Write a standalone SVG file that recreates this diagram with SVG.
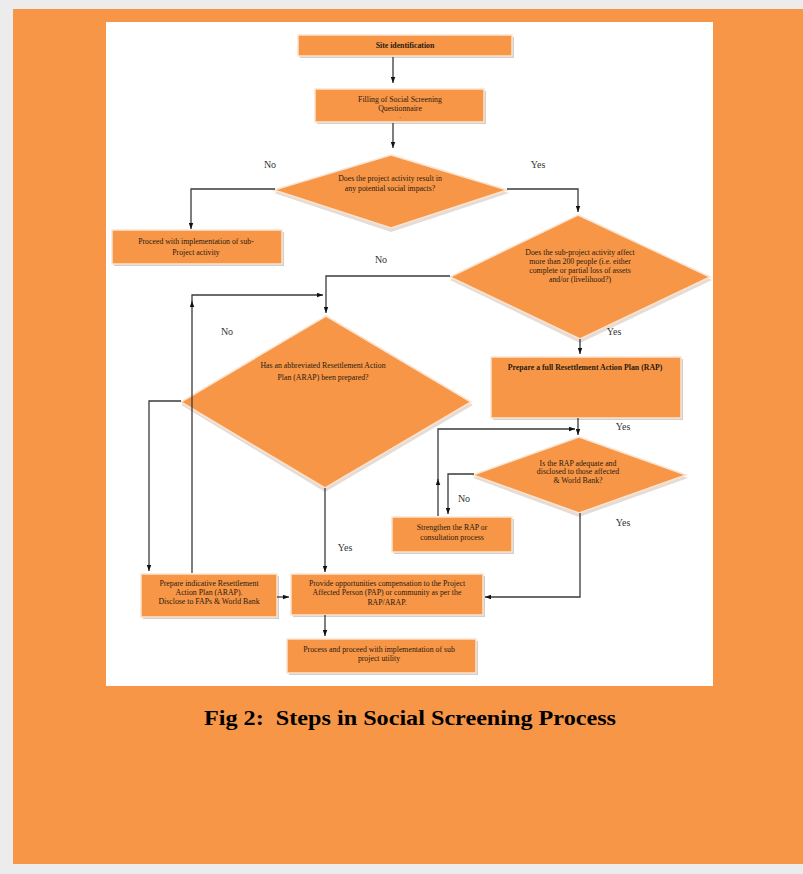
<svg xmlns="http://www.w3.org/2000/svg" width="803" height="874" viewBox="0 0 803 874">
<style>
.box{fill:#F79646;stroke:#fbe3d0;stroke-width:1.5}
.shd{fill:#cfcfcf}
.dsh{fill:#e6dcd6}
.conn{fill:none;stroke:#3a3a3a;stroke-width:1.3}
.t{font-family:"Liberation Serif","Times New Roman",serif;font-size:7.8px;fill:#2a1a10;text-anchor:middle}
.b{font-weight:bold}
.lbl{font-family:"Liberation Serif","Times New Roman",serif;font-size:10px;fill:#333;text-anchor:middle}
.cap{font-family:"Liberation Serif","Times New Roman",serif;font-size:22px;font-weight:bold;fill:#000;text-anchor:middle;white-space:pre}
</style>
<defs>
<marker id="ah" viewBox="0 0 8 6" refX="8" refY="3" markerWidth="6" markerHeight="5" markerUnits="userSpaceOnUse" orient="auto">
<path d="M0,0 L8,3 L0,6 z" fill="#111"/>
</marker>
</defs>
<rect width="803" height="874" fill="#ececec"/>
<rect x="13" y="9" width="790" height="855" fill="#F79646"/>
<rect x="106" y="22" width="607" height="664" fill="#ffffff"/>

<g id="n-site">
<rect class="shd" x="300" y="37" width="214" height="21"/>
<rect class="box" x="298" y="35" width="214" height="21"/>
<text class="t b" x="405" y="48">Site identification</text>
</g>
<g id="n-fill">
<rect class="shd" x="317" y="91" width="169" height="33"/>
<rect class="box" x="315" y="89" width="169" height="33"/>
<text class="t" x="400" y="102">Filling of Social Screening</text>
<text class="t" x="400" y="111">Questionnaire</text>
<text class="t" x="400" y="119" style="font-size:5px">-</text>
</g>
<g id="n-d1">
<polygon class="dsh" points="391,158 509,193 391,232 274,193"/>
<polygon class="box" points="391,155 507,190 391,228 274,190"/>
<text class="t" x="390" y="180.5">Does the project activity result in</text>
<text class="t" x="390" y="190.5">any potential social impacts?</text>
</g>
<g id="n-proceed">
<rect class="shd" x="114" y="232" width="170" height="34"/>
<rect class="box" x="112" y="230" width="170" height="34"/>
<text class="t" x="196" y="244">Proceed with implementation of sub-</text>
<text class="t" x="196" y="255">Project activity</text>
</g>
<g id="n-d2">
<polygon class="dsh" points="578,218 712,280 580,343 450,280"/>
<polygon class="box" points="578,215 710,277 580,339 450,277"/>
<text class="t" x="580" y="254.5">Does the sub-project activity affect</text>
<text class="t" x="580" y="263.5">more than 200 people (i.e. either</text>
<text class="t" x="580" y="272.5">complete or partial loss of assets</text>
<text class="t" x="580" y="281.5">and/or (livelihood?)</text>
</g>
<g id="n-d3">
<polygon class="dsh" points="326,319 473,405 325,492 181,405"/>
<polygon class="box" points="326,316 471,402 325,488 181,402"/>
<text class="t" x="323" y="367.5">Has an abbreviated Resettlement Action</text>
<text class="t" x="323" y="379.5">Plan (ARAP) been prepared?</text>
</g>
<g id="n-rap">
<rect class="shd" x="493" y="359" width="190" height="61"/>
<rect class="box" x="491" y="357" width="190" height="61"/>
<text class="t b" x="585" y="369.5">Prepare a full Resettlement Action Plan (RAP)</text>
</g>
<g id="n-d4">
<polygon class="dsh" points="579,440 688,478 579,517 473,478"/>
<polygon class="box" points="579,437 686,475 579,513 473,475"/>
<text class="t" x="578" y="465.5">Is the RAP adequate and</text>
<text class="t" x="578" y="473.5">disclosed to those affected</text>
<text class="t" x="578" y="482.5">&amp; World Bank?</text>
</g>
<g id="n-strengthen">
<rect class="shd" x="394" y="519" width="120" height="35"/>
<rect class="box" x="392" y="517" width="120" height="35"/>
<text class="t" x="452" y="529.5">Strengthen the RAP or</text>
<text class="t" x="452" y="539.5">consultation process</text>
</g>
<g id="n-prepare">
<rect class="shd" x="143" y="576" width="136" height="43"/>
<rect class="box" x="141" y="574" width="136" height="43"/>
<text class="t" x="209" y="585.5">Prepare indicative Resettlement</text>
<text class="t" x="209" y="595">Action Plan (ARAP).</text>
<text class="t" x="209" y="604">Disclose to FAPs &amp; World Bank</text>
</g>
<g id="n-provide">
<rect class="shd" x="293" y="576" width="192" height="41"/>
<rect class="box" x="291" y="574" width="192" height="41"/>
<text class="t" x="387" y="585.5">Provide opportunities compensation to the Project</text>
<text class="t" x="387" y="595">Affected Person (PAP) or community as per the</text>
<text class="t" x="387" y="605">RAP/ARAP.</text>
</g>
<g id="n-process">
<rect class="shd" x="289" y="641" width="189" height="34"/>
<rect class="box" x="287" y="639" width="189" height="34"/>
<text class="t" x="379" y="651.5">Process and proceed with implementation of sub</text>
<text class="t" x="379" y="660.5">project utility</text>
</g>

<g id="connectors">
<path class="conn" d="M393,57 V83" marker-end="url(#ah)"/>
<path class="conn" d="M393,123 V148" marker-end="url(#ah)"/>
<path class="conn" d="M275,189 H191 V229" marker-end="url(#ah)"/>
<path class="conn" d="M507,189 H578 V212" marker-end="url(#ah)"/>
<path class="conn" d="M450,276 H326 V313" marker-end="url(#ah)"/>
<path class="conn" d="M192,573 V301" marker-end="url(#ah)"/>
<path class="conn" d="M192,302 V295 H323" marker-end="url(#ah)"/>
<path class="conn" d="M181,401 H149 V571" marker-end="url(#ah)"/>
<path class="conn" d="M277,597 H289" marker-end="url(#ah)"/>
<path class="conn" d="M325,488 V572" marker-end="url(#ah)"/>
<path class="conn" d="M325,615 V636" marker-end="url(#ah)"/>
<path class="conn" d="M580,339 V354" marker-end="url(#ah)"/>
<path class="conn" d="M578,418 V435" marker-end="url(#ah)"/>
<path class="conn" d="M438,516 V479" marker-end="url(#ah)"/>
<path class="conn" d="M438,481 V429 H575" marker-end="url(#ah)"/>
<path class="conn" d="M474,474 H448 V514" marker-end="url(#ah)"/>
<path class="conn" d="M580,513 V597 H485" marker-end="url(#ah)"/>
</g>

<g id="labels">
<text class="lbl" x="270" y="168">No</text>
<text class="lbl" x="538" y="168">Yes</text>
<text class="lbl" x="381" y="263">No</text>
<text class="lbl" x="227" y="335">No</text>
<text class="lbl" x="614" y="335">Yes</text>
<text class="lbl" x="623" y="430">Yes</text>
<text class="lbl" x="464" y="502">No</text>
<text class="lbl" x="623" y="526">Yes</text>
<text class="lbl" x="345" y="551">Yes</text>
</g>
<text class="cap" x="410" y="725" textLength="412" lengthAdjust="spacingAndGlyphs" xml:space="preserve">Fig 2:  Steps in Social Screening Process</text>
</svg>
